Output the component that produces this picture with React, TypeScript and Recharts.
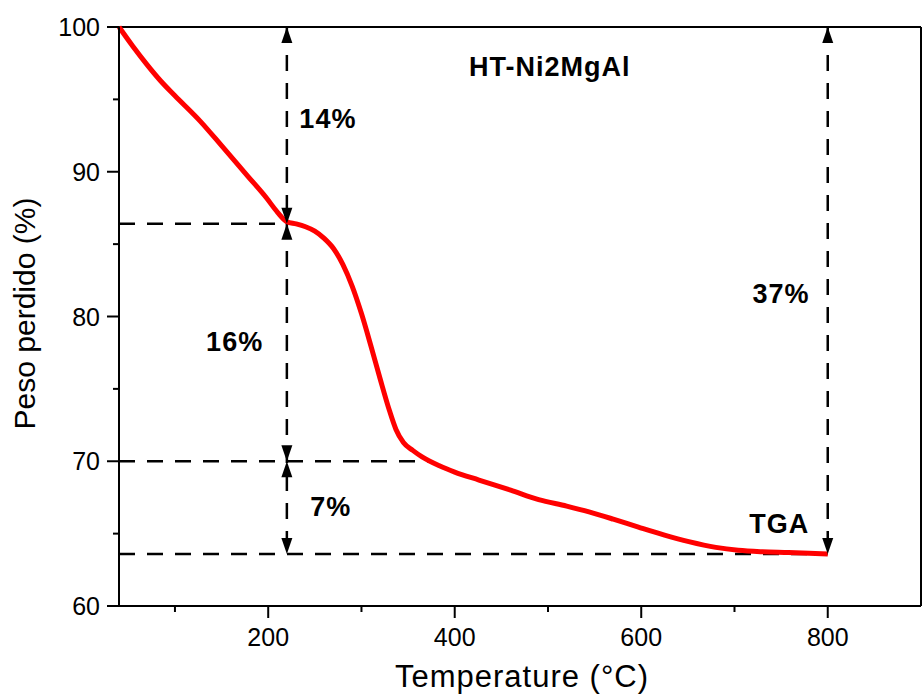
import React from 'react';
import { LineChart, Line, XAxis, YAxis, ReferenceLine, ReferenceDot } from 'recharts';

// TGA curve
const temperature = [40, 55, 70, 85, 100, 127, 150, 178, 198, 210, 220, 230, 240, 250, 260, 270, 280, 290, 300, 310, 320, 330, 337, 345, 355, 365, 383, 400, 426, 460, 490, 520, 544, 570, 597, 625, 651, 680, 704, 730, 758, 780, 800];
const weight = [100, 98.65, 97.4, 96.25, 95.25, 93.5, 91.8, 89.7, 88.2, 87.2, 86.55, 86.4, 86.2, 85.9, 85.4, 84.7, 83.6, 82.1, 80.2, 78.0, 75.7, 73.5, 72.2, 71.3, 70.75, 70.3, 69.7, 69.25, 68.7, 68.0, 67.35, 66.9, 66.5, 66.0, 65.45, 64.9, 64.45, 64.05, 63.85, 63.75, 63.7, 63.65, 63.6];

const xTicks = [100, 200, 300, 400, 500, 600, 700, 800];
const xMajor = [200, 400, 600, 800];
const yTicks = [60, 65, 70, 75, 80, 85, 90, 95, 100];
const yMajor = [60, 70, 80, 90, 100];

// step levels and the temperatures where arrows are drawn
const levels = [100, 86.4, 70, 63.6];
const stepTemp = 220;
const endTemp = 800;
const level70End = 372;

const data = temperature.map((t, i) => ({ t, w: weight[i] }));

const FONT = '"Liberation Sans", Arial, sans-serif';

const XTick = (props: any) => {
  const { x, y, payload } = props;
  const major = xMajor.includes(payload.value);
  return (
    <g>
      <line x1={x} y1={y} x2={x} y2={y + (major ? 12 : 6)} stroke="#000" strokeWidth={2} />
      {major && (
        <text x={x} y={y + 40} textAnchor="middle" fontSize={25} fontFamily={FONT} fill="#000">
          {payload.value}
        </text>
      )}
    </g>
  );
};

const YTick = (props: any) => {
  const { x, y, payload } = props;
  const major = yMajor.includes(payload.value);
  return (
    <g>
      <line x1={x - (major ? 12 : 6)} y1={y} x2={x} y2={y} stroke="#000" strokeWidth={2} />
      {major && (
        <text x={x - 19} y={y + 9} textAnchor="end" fontSize={25} fontFamily={FONT} fill="#000">
          {payload.value}
        </text>
      )}
    </g>
  );
};

const arrowHead = (dir: 'up' | 'down') => (p: any) => {
  const { cx, cy } = p;
  const h = 16;
  const hw = 5.5;
  const base = dir === 'up' ? cy + h : cy - h;
  return <path d={`M${cx},${cy} L${cx - hw},${base} L${cx + hw},${base} Z`} fill="#000" />;
};

const arrows: { x: number; y: number; dir: 'up' | 'down' }[] = [
  { x: stepTemp, y: levels[0], dir: 'up' },
  { x: stepTemp, y: levels[1], dir: 'down' },
  { x: stepTemp, y: levels[1], dir: 'up' },
  { x: stepTemp, y: levels[2], dir: 'down' },
  { x: stepTemp, y: levels[2], dir: 'up' },
  { x: stepTemp, y: levels[3], dir: 'down' },
  { x: endTemp, y: levels[0], dir: 'up' },
  { x: endTemp, y: levels[3], dir: 'down' },
];

const notes = [
  { x: 264, y: 93.7, text: '14%' },
  { x: 164, y: 78.3, text: '16%' },
  { x: 267, y: 66.9, text: '7%' },
  { x: 750, y: 81.6, text: '37%' },
  { x: 502, y: 97.3, text: 'HT-Ni2MgAl' },
  { x: 748, y: 65.7, text: 'TGA' },
];

const noteShape = (text: string) => (p: any) => (
  <text x={p.cx} y={p.cy} dy={10} textAnchor="middle" fontSize={27} letterSpacing={1} fontWeight="bold" fontFamily={FONT} fill="#000">
    {text}
  </text>
);

const dash = { stroke: '#000', strokeWidth: 2.5, strokeDasharray: '16 12' };

export default function App() {
  return (
    <div style={{ position: 'absolute', left: 0, top: 0, width: 924, height: 694, background: '#fff' }}>
      <LineChart width={924} height={694} data={data} margin={{ top: 27, right: 3, bottom: 0, left: 0 }}>
        <XAxis
          dataKey="t"
          type="number"
          domain={[40, 900]}
          ticks={xTicks}
          interval={0}
          tickSize={0}
          tickMargin={0}
          tickLine={false}
          tick={<XTick />}
          height={88}
          axisLine={{ stroke: '#000', strokeWidth: 2 }}
          label={{
            content: (lp: any) => {
              const vb = lp.viewBox;
              return (
                <text x={vb.x + vb.width / 2 + 2} y={vb.y + 81} textAnchor="middle" fontSize={31} letterSpacing={1} fontFamily={FONT} fill="#000">
                  Temperature (°C)
                </text>
              );
            },
          }}
        />
        <YAxis
          type="number"
          domain={[60, 100]}
          ticks={yTicks}
          interval={0}
          tickSize={0}
          tickMargin={0}
          tickLine={false}
          tick={<YTick />}
          width={119}
          axisLine={{ stroke: '#000', strokeWidth: 2 }}
          label={{
            content: (lp: any) => {
              const vb = lp.viewBox;
              const cx = vb.x + 30;
              const cy = vb.y + vb.height / 2 - 3;
              return (
                <text x={cx} y={cy} transform={`rotate(-90 ${cx} ${cy})`} dy={5} textAnchor="middle" fontSize={30} fontFamily={FONT} fill="#000">
                  Peso perdido (%)
                </text>
              );
            },
          }}
        />
        <ReferenceLine y={100} stroke="#000" strokeWidth={2} />
        <ReferenceLine x={900} stroke="#000" strokeWidth={2} />
        <ReferenceLine segment={[{ x: 40, y: levels[1] }, { x: stepTemp, y: levels[1] }]} {...dash} />
        <ReferenceLine segment={[{ x: 40, y: levels[2] }, { x: level70End, y: levels[2] }]} {...dash} />
        <ReferenceLine segment={[{ x: 40, y: levels[3] }, { x: endTemp, y: levels[3] }]} {...dash} />
        <ReferenceLine segment={[{ x: stepTemp, y: levels[0] }, { x: stepTemp, y: levels[3] }]} {...dash} />
        <ReferenceLine segment={[{ x: endTemp, y: levels[0] }, { x: endTemp, y: levels[3] }]} {...dash} />
        <Line
          type="monotone"
          dataKey="w"
          stroke="#ff0000"
          strokeWidth={5}
          dot={false}
          isAnimationActive={false}
        />
        {arrows.map((a, i) => (
          <ReferenceDot key={`a-${i}`} x={a.x} y={a.y} r={0} shape={arrowHead(a.dir)} />
        ))}
        {notes.map((n, i) => (
          <ReferenceDot key={`n-${i}`} x={n.x} y={n.y} r={0} shape={noteShape(n.text)} />
        ))}
      </LineChart>
    </div>
  );
}
